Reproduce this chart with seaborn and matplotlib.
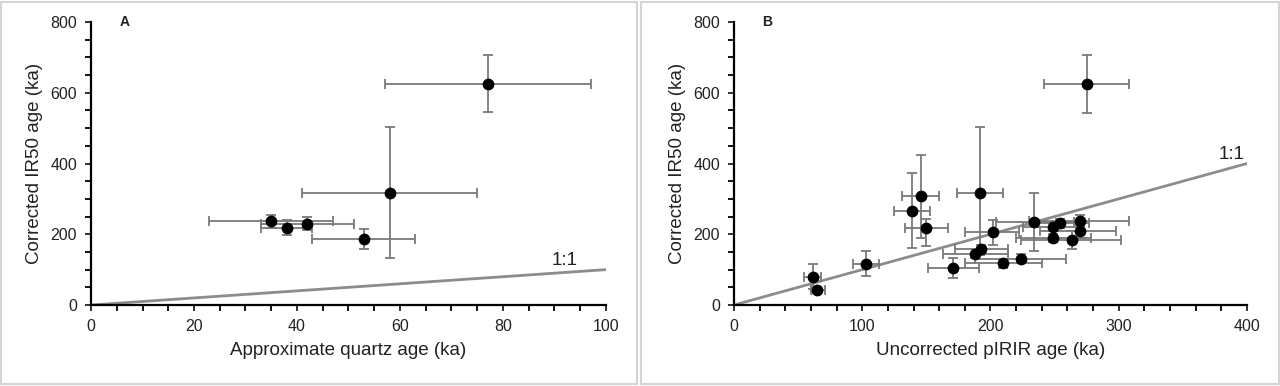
import numpy as np
import pandas as pd
import matplotlib
matplotlib.use("Agg")
import matplotlib.pyplot as plt
from matplotlib.ticker import MultipleLocator
from matplotlib.patches import Rectangle
import seaborn as sns

# Panel A: approximate quartz age vs corrected IR50 age
qa_x = [35, 38, 42, 53, 58, 77]
qa_y = [237, 218, 230, 186, 318, 625]
qa_xlo = [23, 33, 33, 43, 41, 57]
qa_xhi = [47, 43, 51, 63, 75, 97]
qa_ylo = [218, 198, 212, 157, 134, 545]
qa_yhi = [255, 240, 248, 214, 503, 707]

# Panel B: uncorrected pIRIR age vs corrected IR50 age
pb_x = [275, 192, 146, 139, 150, 103, 61.5, 65, 171, 188, 193, 202, 210, 224,
        234, 248.5, 254.5, 249, 263.5, 270, 270]
pb_y = [624, 318, 307, 267, 219, 117, 80, 42, 104, 145, 158, 205, 118, 131,
        234, 220, 231, 189, 184, 238, 208]
pb_xlo = [242, 174, 131, 125, 133, 93, 55, 60, 151, 163, 172, 180, 180, 188,
          204, 225, 232, 220, 224, 230, 239]
pb_xhi = [308, 210, 160, 153, 167, 113, 68, 71, 191, 214, 214, 222, 240, 259,
          265, 272, 277, 278, 302, 308, 298]
pb_ylo = [542, 140, 190, 162, 168, 81, 45, 34, 76, 133, 146, 170, 106, 119,
          152, 208, 219, 177, 158, 222, 190]
pb_yhi = [707, 503, 425, 372, 244, 152, 116, 50, 133, 157, 170, 239, 130, 143,
          317, 232, 243, 201, 210, 254, 228]

sns.set_theme(style="white")
plt.rcParams['font.family'] = ['Liberation Sans', 'DejaVu Sans']

fig = plt.figure(figsize=(12.8, 3.86), dpi=100)
ax_a = fig.add_axes([0.0711, 0.2098, 0.4023, 0.7332])
ax_b = fig.add_axes([0.5734, 0.2098, 0.4008, 0.7332])

# light grey frames round each panel
for x0, w in [(0.001, 0.497), (0.501, 0.498)]:
    fig.patches.append(Rectangle((x0, 0.004), w, 0.992, transform=fig.transFigure,
                                 fill=False, edgecolor='#d4d4d4', linewidth=1.5))


def draw_panel(ax, x, y, xlo, xhi, ylo, yhi, xmax, xmajor, xminor,
               xlabel, letter, letter_x, one_x, one_y):
    df = pd.DataFrame({'x': x, 'y': y})
    xe = [np.array(x) - np.array(xlo), np.array(xhi) - np.array(x)]
    ye = [np.array(y) - np.array(ylo), np.array(yhi) - np.array(y)]
    ax.errorbar(df['x'], df['y'], xerr=xe, yerr=ye, fmt='none', ecolor='#7a7a7a',
                elinewidth=1.3, capsize=3.5, capthick=1.3, zorder=2)
    sns.lineplot(x=[0, xmax], y=[0, xmax], ax=ax, color='#8c8c8c', linewidth=2, zorder=1)
    sns.scatterplot(data=df, x='x', y='y', ax=ax, color='black', s=72,
                    edgecolor='black', linewidth=0, zorder=3)
    ax.set_xlim(0, xmax)
    ax.set_ylim(0, 800)
    ax.xaxis.set_major_locator(MultipleLocator(xmajor))
    ax.xaxis.set_minor_locator(MultipleLocator(xminor))
    ax.yaxis.set_major_locator(MultipleLocator(200))
    ax.yaxis.set_minor_locator(MultipleLocator(50))
    ax.tick_params(which='both', direction='out', length=4, width=1.3,
                   color='black', bottom=True, left=True)
    ax.tick_params(which='major', labelsize=11.5, colors='#222222', pad=6)
    for s in ['top', 'right']:
        ax.spines[s].set_visible(False)
    for s in ['left', 'bottom']:
        ax.spines[s].set_color('black')
        ax.spines[s].set_linewidth(1.6)
    ax.set_xlabel(xlabel, fontsize=13.5, color='#222222', labelpad=6)
    ax.set_ylabel('Corrected IR50 age (ka)', fontsize=13.5, color='#222222', labelpad=5)
    ax.text(letter_x, 800, letter, fontsize=10, fontweight='bold', ha='center',
            va='center', color='#222222')
    ax.text(one_x, one_y, '1:1', fontsize=13.5, ha='center', va='center', color='#222222')
    ax.set_facecolor('white')


draw_panel(ax_a, qa_x, qa_y, qa_xlo, qa_xhi, qa_ylo, qa_yhi, 100, 20, 5,
           'Approximate quartz age (ka)', 'A', 6.5, 92, 127)
draw_panel(ax_b, pb_x, pb_y, pb_xlo, pb_xhi, pb_ylo, pb_yhi, 400, 100, 20,
           'Uncorrected pIRIR age (ka)', 'B', 25.5, 388, 426)

fig.savefig('out.png', dpi=100, facecolor='white')
